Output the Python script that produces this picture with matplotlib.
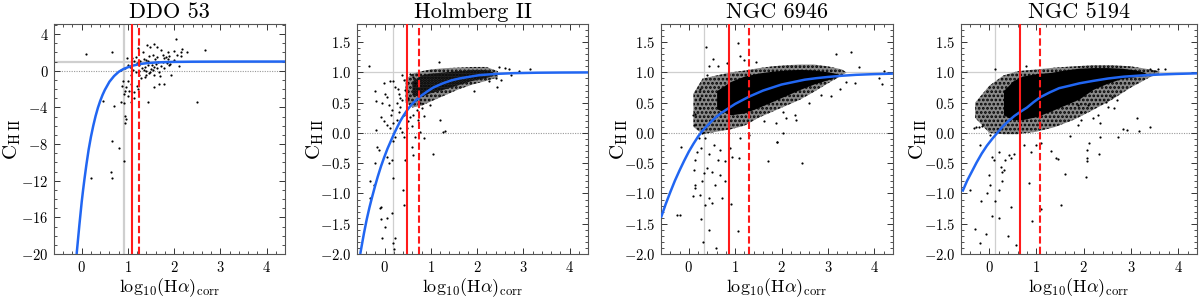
import matplotlib
matplotlib.use("Agg")
import matplotlib.pyplot as plt
from matplotlib.ticker import MultipleLocator

plt.rcParams['font.family'] = 'cmr10'
plt.rcParams['mathtext.fontset'] = 'cm'
plt.rcParams['axes.formatter.use_mathtext'] = True
plt.rcParams['hatch.linewidth'] = 1.3

# ---------------- data ----------------
titles = ["DDO 53", "Holmberg II", "NGC 6946", "NGC 5194"]

# vertical reference lines: gray (solid), red solid, red dashed
gray_vline = [0.92, 0.18, 0.33, 0.12]
red_solid = [1.08, 0.49, 0.86, 0.65]
red_dashed = [1.23, 0.74, 1.29, 1.07]

# ----- DDO 53 -----
ddo53_x = [0.09, 0.66, 2.04, 1.41, 1.48, 1.56, 2.67, 2.50, 1.44, 0.70, 0.47, 0.66, 0.81, 0.92,
           0.64, 0.66, 0.21, 0.93, 0.95, 0.94, 0.86, 0.91, 1.06, 1.00, 1.02, 0.93, 0.91, 0.96,
           0.87, 0.90, 1.00, 1.06, 1.07, 1.14, 1.13, 1.19, 1.22, 1.25, 1.29, 1.36, 1.40, 1.48,
           1.56, 1.69, 1.79, 1.68, 1.57, 1.93, 1.91, 0.86, 0.94, 1.01, 1.09, 1.18, 1.14, 1.21,
           1.32, 1.34, 1.39, 1.46, 1.54, 1.59, 1.64, 1.71, 1.75, 1.79, 1.86, 1.89, 1.87, 1.99,
           2.07, 2.14, 2.18, 2.14, 2.27, 1.30, 1.36, 1.43, 1.50, 1.57, 1.64, 1.71, 1.79, 1.39,
           1.46, 1.54, 1.68, 1.84, 1.89, 1.75, 1.61, 1.43, 1.25, 1.20, 1.04, 1.11, 1.18, 1.24,
           0.98, 1.27, 1.52, 1.66, 1.83, 2.00, 2.10, 1.35, 1.62]
ddo53_y = [1.84, 2.06, 3.42, 2.76, 2.61, 2.94, 2.24, -3.46, -3.38, -3.90, -3.27, -7.68, -8.46,
           -9.89, -11.07, -11.73, -11.73, -4.93, -5.29, -5.66, -3.46, -3.53, -3.46, -2.72,
           -2.17, -2.17, -2.54, -1.80, -1.62, -1.07, -1.07, -0.51, -1.43, -2.35, -3.01, -1.62,
           -1.99, -0.51, -0.81, -0.70, -0.51, -0.15, -0.44, -0.59, -1.43, -1.47, -1.80, -0.51,
           0.77, 0.04, 0.29, 0.59, 1.40, 1.51, 1.10, 2.43, 1.99, 1.32, 1.21, 1.62, 1.76, 1.32,
           1.47, 2.24, 1.76, 1.40, 2.06, 1.62, 1.32, 2.13, 1.76, 2.06, 2.32, 1.62, 2.06, 0.29,
           0.40, 0.66, 0.22, 0.40, 0.29, 0.51, 0.29, -0.07, -0.22, 0.11, -0.15, 0.88, 0.59,
           0.96, 0.77, 1.03, 0.59, 0.88, 0.40, 0.04, -0.15, -0.07, 1.35, 1.05, 0.62, 0.95,
           1.55, 1.20, 0.55, 0.10, 2.55]
ddo53_curve_x = [-0.11, -0.08, -0.05, -0.02, 0.0, 0.03, 0.06, 0.1, 0.15, 0.2, 0.25, 0.3, 0.35,
                 0.4, 0.45, 0.5, 0.6, 0.7, 0.8, 0.9, 1.0, 1.1, 1.25, 1.4, 1.6, 1.8, 2.0, 2.4,
                 3.0, 3.6, 4.4]
ddo53_curve_y = [-20.0, -18.4, -16.8, -15.3, -14.3, -13.0, -11.8, -10.3, -8.6, -7.2, -6.0,
                 -4.95, -4.05, -3.3, -2.65, -2.1, -1.2, -0.58, -0.12, 0.18, 0.38, 0.55, 0.72,
                 0.82, 0.9, 0.94, 0.965, 0.985, 0.995, 1.0, 1.0]

# ----- Holmberg II -----
ho2_x = [-0.33, 1.18, -0.22, -0.18, 0.01, -0.02, 0.12, 0.19, 0.05, -0.06, 0.09, 0.16, -0.08,
         -0.02, -0.19, 0.05, 0.12, 0.19, 0.26, 0.34, 0.37, 0.41, 0.23, 0.18, -0.16, -0.13, 0.05,
         0.09, 0.16, -0.22, 0.44, -0.31, -0.24, -0.32, -0.09, -0.11, 0.05, 0.01, -0.09, -0.06,
         0.16, 0.19, 0.39, 0.42, 0.23, 0.19, 0.21, 0.66, 0.62, 0.59, 0.84, 1.05, 1.30, 1.26,
         1.19, 0.76, 0.51, 0.48, 0.55, 0.41, 0.30, 0.34, 0.26, 0.37, 0.30, 0.23, 0.41, 0.37,
         0.55, 0.62, 0.66, 0.51, 0.44, 0.69, 0.62, 0.80, 0.98, 0.76, 3.14, 2.91, 2.69, 2.61,
         2.73, 2.44, 2.51, 1.93, 2.26, 2.41, 2.48, 0.28, 0.14, 0.33, 0.45, 0.58, 0.71, 0.86]
ho2_y = [1.10, 1.17, 0.69, 0.53, 0.65, 0.82, 0.85, 0.86, 0.60, 0.49, 0.46, 0.38, 0.27, 0.19,
         0.05, 0.13, 0.08, 0.16, 0.21, 0.08, 0.02, -0.06, -0.06, -0.14, -0.23, -0.28, -0.39,
         -0.50, -0.45, -0.50, -0.45, -0.80, -0.86, -1.07, -1.22, -1.24, -1.41, -1.55, -1.43,
         -1.74, -1.33, -0.75, -0.94, -1.19, -1.74, -1.82, -1.92, -0.06, -0.36, -0.23, -0.09,
         -0.35, 0.03, 0.02, 0.21, 0.02, 0.19, 0.08, 0.27, 0.30, 0.35, 0.43, 0.49, 0.54, 0.65,
         0.76, 0.87, 0.95, 0.98, 0.93, 0.82, 0.57, 0.71, 0.38, 0.30, 0.41, 0.46, 0.49, 1.06,
         1.02, 1.05, 1.07, 0.96, 0.76, 0.87, 0.70, 0.85, 0.90, 1.09, 0.72, 0.30, 0.58, 0.33,
         0.12, 0.22, 0.28]
ho2_halo_x = [0.45, 0.6, 0.8, 1.0, 1.3, 1.6, 1.9, 2.2, 2.45]
ho2_halo_lo = [0.5, 0.42, 0.45, 0.52, 0.62, 0.72, 0.8, 0.86, 0.92]
ho2_halo_hi = [0.88, 0.98, 1.02, 1.05, 1.07, 1.08, 1.09, 1.09, 1.02]
ho2_core_x = [0.6, 0.8, 1.0, 1.3, 1.6, 1.9, 2.2, 2.35]
ho2_core_lo = [0.62, 0.6, 0.66, 0.72, 0.79, 0.86, 0.91, 0.94]
ho2_core_hi = [0.85, 0.95, 0.98, 1.0, 1.02, 1.04, 1.04, 1.0]
ho2_curve_x = [-0.53, -0.45, -0.39, -0.33, -0.27, -0.21, -0.15, -0.08, -0.01, 0.06, 0.14, 0.21,
               0.28, 0.34, 0.41, 0.48, 0.57, 0.66, 0.78, 0.91, 1.05, 1.26, 1.45, 1.62, 1.85,
               2.05, 2.4, 2.8, 3.3, 3.8, 4.4]
ho2_curve_y = [-2.0, -1.66, -1.43, -1.23, -1.05, -0.88, -0.72, -0.55, -0.40, -0.26, -0.12,
               0.0, 0.11, 0.2, 0.29, 0.37, 0.46, 0.53, 0.61, 0.68, 0.75, 0.82, 0.87, 0.9,
               0.93, 0.955, 0.975, 0.988, 0.995, 0.998, 1.0]

# ----- NGC 6946 -----
n6946_x = [0.37, 1.06, 0.52, 0.44, 0.39, 1.11, -0.16, 0.14, 0.11, 0.09, 0.14, 0.14, 0.25, 0.36,
           0.43, 0.50, -0.18, 0.27, 0.31, 0.44, 0.59, 0.71, 0.91, 1.06, 0.77, 0.57, 0.29, 0.32,
           0.39, 0.50, 0.68, 0.18, 0.27, 0.43, 0.64, 0.79, 0.93, 1.09, 0.89, 0.68, 0.54, 0.36,
           0.21, 0.29, 0.11, 0.09, 0.13, 0.25, 0.25, 0.24, 1.71, 1.91, 1.29, 1.11, 3.50, 3.18,
           3.66, 4.21, 4.09, 4.16, 3.59, 3.39, 3.26, 3.07, 2.30, 2.32, 1.89, 2.09, 2.02, 1.91,
           2.43, 2.03, -0.25, 0.62, 0.83, 1.2, 1.45, 1.62, 2.6, 2.85]
n6946_y = [1.42, 1.48, 1.22, 1.11, 0.96, 1.27, -0.23, -0.45, -0.61, -1.05, -0.86, -0.91, -1.02,
           -1.19, -1.08, -1.16, -1.35, -1.43, -1.80, -1.60, -1.90, -1.07, -1.17, -1.62, -0.80,
           -0.86, -0.79, -0.67, -0.58, -0.64, -0.69, -0.31, -0.25, -0.34, -0.45, -0.47, -0.39,
           -0.41, -0.25, -0.28, -0.20, -0.09, -0.09, 0.00, 0.13, 0.30, 0.32, 0.41, 0.57, 0.72,
           -0.47, -0.15, -0.03, -0.09, 1.34, 1.31, 1.09, 1.02, 0.90, 0.81, 0.83, 0.84, 0.72,
           0.61, 0.30, 0.21, 0.16, 0.24, 0.00, -0.15, -0.49, 0.35, -1.35, 1.1, 1.15, 1.2, 1.18,
           0.2, 0.5, 0.62]
n6946_halo_x = [0.1, 0.3, 0.6, 0.9, 1.2, 1.5, 1.8, 2.1, 2.4, 2.7, 3.0, 3.3, 3.4]
n6946_halo_lo = [0.1, -0.02, 0.02, 0.06, 0.12, 0.25, 0.35, 0.45, 0.55, 0.68, 0.82, 0.95, 1.0]
n6946_halo_hi = [0.65, 0.9, 0.95, 1.0, 1.03, 1.07, 1.1, 1.12, 1.13, 1.13, 1.1, 1.05, 1.0]
n6946_core_x = [0.6, 0.9, 1.2, 1.5, 1.8, 2.1, 2.4, 2.7, 3.0, 3.2]
n6946_core_lo = [0.4, 0.3, 0.33, 0.42, 0.52, 0.62, 0.72, 0.81, 0.88, 0.93]
n6946_core_hi = [0.7, 0.85, 0.94, 0.99, 1.02, 1.04, 1.05, 1.04, 1.01, 0.98]
n6946_curve_x = [-0.6, -0.5, -0.4, -0.3, -0.2, -0.1, 0.0, 0.1, 0.2, 0.3, 0.4, 0.5, 0.6, 0.7,
                 0.8, 0.9, 1.0, 1.15, 1.3, 1.45, 1.6, 1.8, 2.0, 2.25, 2.5, 2.75, 3.0, 3.3, 3.6,
                 4.0, 4.4]
n6946_curve_y = [-1.40, -1.18, -0.98, -0.79, -0.62, -0.46, -0.31, -0.18, -0.06, 0.04, 0.12,
                 0.20, 0.27, 0.33, 0.38, 0.43, 0.48, 0.54, 0.60, 0.65, 0.70, 0.75, 0.80, 0.84,
                 0.88, 0.905, 0.925, 0.945, 0.96, 0.972, 0.98]

# ----- NGC 5194 -----
n5194_x = [0.13, 0.77, -0.21, -0.16, -0.19, 0.02, 0.06, 0.09, 0.20, 0.24, 0.27, 0.31, 0.34,
           0.45, 0.41, 0.52, 0.74, 0.88, 0.99, 1.09, 1.41, -0.41, -0.01, 0.02, -0.17, -0.05,
           0.20, 0.13, 0.27, 0.84, 0.06, 0.20, 0.45, 0.90, 1.09, 1.51, 1.61, -0.30, -0.06,
           -0.19, 0.40, 0.56, 1.45, 3.13, 2.91, 2.84, 2.72, 3.18, 3.41, 2.34, 2.11, 2.06, 2.08,
           2.06, 2.32, 2.05, 1.88, 1.95, 2.20, 2.34, 2.31, 2.52, 2.65, 2.59, 2.70, 2.48, 3.41,
           3.58, 3.72, 3.48, 2.09, 1.95, 1.88, -0.33, -0.28, 1.3, 1.7]
n5194_y = [1.05, 1.11, 0.10, 0.12, -0.20, -0.03, -0.39, -0.45, -0.31, -0.56, -0.64, -0.61,
           -0.45, -0.42, -0.36, -0.34, -0.20, -0.31, -0.20, -0.17, -0.42, -0.94, -0.69, -0.86,
           -1.12, -1.00, -0.94, -1.13, -0.80, -0.83, -1.37, -1.40, -1.23, -1.45, -1.25, -1.19,
           -0.68, -1.59, -1.67, -1.82, -1.71, -1.85, -0.43, 0.24, 0.05, 0.06, -0.06, 0.04, 0.09,
           -0.06, -0.17, -0.28, -0.41, -0.47, -0.34, -0.72, 0.13, 0.21, 0.24, 0.16, 0.30, 0.43,
           0.41, 0.60, 0.54, 0.51, 1.06, 1.05, 1.05, 1.02, 0.46, 0.35, 0.46, 0.08, 0.1, -0.3,
           -0.05]
n5194_halo_x = [-0.3, 0.0, 0.3, 0.6, 1.0, 1.4, 1.8, 2.2, 2.6, 3.0, 3.4, 3.6]
n5194_halo_lo = [0.25, 0.0, -0.02, -0.02, 0.02, 0.1, 0.22, 0.38, 0.55, 0.75, 0.92, 0.98]
n5194_halo_hi = [0.5, 0.78, 0.95, 1.02, 1.05, 1.08, 1.1, 1.12, 1.12, 1.1, 1.05, 1.02]
n5194_core_x = [0.3, 0.5, 0.7, 1.0, 1.3, 1.6, 1.9, 2.2, 2.5, 2.8, 3.1, 3.3]
n5194_core_lo = [0.3, 0.22, 0.22, 0.27, 0.36, 0.46, 0.56, 0.72, 0.82, 0.9, 0.93, 0.95]
n5194_core_hi = [0.7, 0.86, 0.94, 0.98, 1.0, 1.04, 1.07, 1.08, 1.08, 1.07, 1.04, 1.0]
n5194_curve_x = [-0.57, -0.47, -0.37, -0.27, -0.16, -0.05, 0.06, 0.2, 0.3, 0.41, 0.53, 0.66,
                 0.8, 0.94, 1.08, 1.28, 1.48, 1.7, 1.91, 2.2, 2.52, 2.85, 3.23, 3.6, 3.95, 4.42]
n5194_curve_y = [-0.97, -0.79, -0.64, -0.49, -0.34, -0.21, -0.10, 0.03, 0.12, 0.20, 0.28,
                 0.35, 0.42, 0.51, 0.59, 0.67, 0.74, 0.78, 0.82, 0.86, 0.90, 0.93, 0.95,
                 0.965, 0.975, 0.985]

points = [(ddo53_x, ddo53_y), (ho2_x, ho2_y), (n6946_x, n6946_y), (n5194_x, n5194_y)]
curves = [(ddo53_curve_x, ddo53_curve_y), (ho2_curve_x, ho2_curve_y),
          (n6946_curve_x, n6946_curve_y), (n5194_curve_x, n5194_curve_y)]
halos = [None, (ho2_halo_x, ho2_halo_lo, ho2_halo_hi),
         (n6946_halo_x, n6946_halo_lo, n6946_halo_hi),
         (n5194_halo_x, n5194_halo_lo, n5194_halo_hi)]
cores = [None, (ho2_core_x, ho2_core_lo, ho2_core_hi),
         (n6946_core_x, n6946_core_lo, n6946_core_hi),
         (n5194_core_x, n5194_core_lo, n5194_core_hi)]

# ---------------- figure ----------------
fig = plt.figure(figsize=(12, 2.97), dpi=100)
lefts = [0.045, 0.2975, 0.5508, 0.8008]
widths = [0.1925, 0.1925, 0.1933, 0.1967]
bottom, height = 0.1448, 0.7744

blue = '#2166f2'
for i in range(4):
    ax = fig.add_axes([lefts[i], bottom, widths[i], height])
    ax.set_xlim(-0.6, 4.4)
    if i == 0:
        ax.set_ylim(-20, 5.1)
        ax.yaxis.set_major_locator(MultipleLocator(4))
        ax.yaxis.set_minor_locator(MultipleLocator(1))
        glw = 1.6
    else:
        ax.set_ylim(-2.0, 1.8)
        ax.yaxis.set_major_locator(MultipleLocator(0.5))
        ax.yaxis.set_minor_locator(MultipleLocator(0.1))
        glw = 0.9
    ax.xaxis.set_major_locator(MultipleLocator(1))
    ax.xaxis.set_minor_locator(MultipleLocator(0.2))

    ax.axhline(1.0, color='#cfcfcf', lw=glw, zorder=1)
    ax.axhline(0.0, color='#9a9a9a', lw=0.8, ls=(0, (1, 1.2)), zorder=1)
    ax.axvline(gray_vline[i], color='#cfcfcf', lw=glw, zorder=1)

    if halos[i] is not None:
        hx, hlo, hhi = halos[i]
        ax.fill_between(hx, hlo, hhi, facecolor='#8a8a8a', edgecolor='black',
                        hatch='....', lw=0, zorder=2)
    if cores[i] is not None:
        cx, clo, chi = cores[i]
        if i == 1:
            ax.fill_between(cx, clo, chi, facecolor='#2a2a2a', edgecolor='black',
                            hatch='......', lw=0, zorder=2)
        else:
            ax.fill_between(cx, clo, chi, color='black', lw=0, zorder=2)
    px, py = points[i]
    ax.scatter(px, py, s=2.5, color='black', lw=0, zorder=3)

    cxv, cyv = curves[i]
    ax.plot(cxv, cyv, color=blue, lw=1.8, zorder=4, solid_capstyle='butt')

    ax.axvline(red_solid[i], color='#ff1a1a', lw=1.5, zorder=5)
    ax.axvline(red_dashed[i], color='#ff1a1a', lw=1.5, ls=(0, (3.5, 1.5)), zorder=5)

    ax.tick_params(which='both', direction='in', top=True, right=True,
                   labelsize=10.5, color='#333333', pad=4)
    ax.tick_params(which='major', length=4, width=0.7)
    ax.tick_params(which='minor', length=2, width=0.6)
    for sp in ax.spines.values():
        sp.set_color('#555555')
        sp.set_linewidth(0.8)

    ax.set_title(titles[i], fontsize=16, pad=4)
    ax.set_xlabel(r'$\mathrm{log}_{10}(\mathrm{H}\alpha)_{\mathrm{corr}}$', fontsize=13,
                  labelpad=1)
    ax.set_ylabel(r'$\mathrm{C}_{\mathrm{H\,II}}$', fontsize=15)
    ax.yaxis.set_label_coords(-0.135, 0.5)

fig.savefig('out.png', dpi=100)
